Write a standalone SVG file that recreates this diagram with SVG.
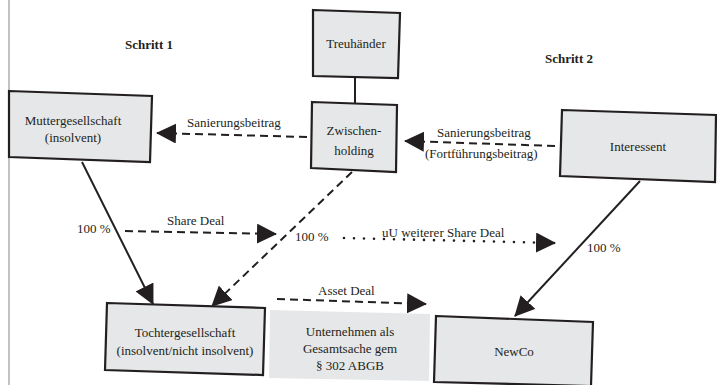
<svg xmlns="http://www.w3.org/2000/svg" width="717" height="385" viewBox="0 0 717 385">
<style>
.box{fill:#e6e7e8;stroke:#231f20;stroke-width:2.2}
.t{font-family:"Liberation Serif",serif;font-size:13px;fill:#231f20;text-anchor:middle}
.l{font-family:"Liberation Serif",serif;font-size:13px;fill:#231f20}
.b{font-weight:bold}
.solid{stroke:#231f20;stroke-width:2;fill:none;marker-end:url(#ah)}
.dash{stroke:#231f20;stroke-width:2;fill:none;stroke-dasharray:8 5;marker-end:url(#ah)}
.dot{stroke:#231f20;stroke-width:2.6;fill:none;stroke-dasharray:0 10;stroke-linecap:round;marker-end:url(#ah)}
</style>
<defs>
<marker id="ah" markerUnits="userSpaceOnUse" markerWidth="20" markerHeight="20" refX="19" refY="10" orient="auto" viewBox="0 0 20 20">
<path d="M0,0 L20,10 L0,20 z" fill="#231f20"/>
</marker>
</defs>
<rect width="717" height="385" fill="#ffffff"/>
<line x1="9" y1="0" x2="9" y2="385" stroke="#9a9a9a" stroke-width="1.2"/>
<text class="l b" x="125" y="49">Schritt 1</text>
<text class="l b" x="545" y="63">Schritt 2</text>
<g id="connectors">
<line x1="355" y1="77" x2="355" y2="103" stroke="#231f20" stroke-width="2"/>
<line class="dash" x1="307" y1="137" x2="157" y2="133"/>
<line class="dash" x1="555" y1="146" x2="405" y2="141"/>
<line class="solid" x1="82" y1="162" x2="153" y2="304"/>
<line class="dash" x1="352" y1="172" x2="212" y2="306"/>
<line class="dash" x1="125" y1="231" x2="276" y2="234"/>
<line class="dot" x1="344" y1="238" x2="555" y2="243"/>
<line class="dash" x1="277" y1="299" x2="426" y2="304"/>
<line class="solid" x1="640" y1="181" x2="515" y2="316"/>
<text class="l" x="187" y="127">Sanierungsbeitrag</text>
<text class="l" x="437" y="137">Sanierungsbeitrag</text>
<text class="l" x="425" y="158">(Fortführungsbeitrag)</text>
<text class="l" x="167" y="225">Share Deal</text>
<text class="l" x="77" y="233">100 %</text>
<text class="l" x="295" y="241">100 %</text>
<text class="l" x="382" y="237">uU weiterer Share Deal</text>
<text class="l" x="318" y="295">Asset Deal</text>
<text class="l" x="587" y="252">100 %</text>
</g>
<g id="muttergesellschaft">
<polygon class="box" points="9,91 152,96 150,162 9,157"/>
<text class="t" x="73" y="125">Muttergesellschaft</text>
<text class="t" x="73" y="142">(insolvent)</text>
</g>
<g id="treuhaender">
<polygon class="box" points="313,10 400,13 398,78 313,76"/>
<text class="t" x="356" y="48">Treuhänder</text>
</g>
<g id="zwischenholding">
<polygon class="box" points="312,102 397,105 396,172 311,168"/>
<text class="t" x="354" y="135">Zwischen-</text>
<text class="t" x="354" y="155">holding</text>
</g>
<g id="interessent">
<polygon class="box" points="562,110 716,115 715,182 560,176"/>
<text class="t" x="638" y="151">Interessent</text>
</g>
<g id="tochtergesellschaft">
<polygon class="box" points="107,303 265,308 263,375 105,370"/>
<text class="t" x="185" y="337">Tochtergesellschaft</text>
<text class="t" x="185" y="355">(insolvent/nicht insolvent)</text>
</g>
<g id="unternehmen">
<polygon points="270,310 430,314 429,381 269,378" fill="#e6e7e8"/>
<text class="t" x="350" y="336">Unternehmen als</text>
<text class="t" x="350" y="353">Gesamtsache gem</text>
<text class="t" x="350" y="370">§ 302 ABGB</text>
</g>
<g id="newco">
<polygon class="box" points="436,316 593,322 591,386 434,382"/>
<text class="t" x="514" y="356">NewCo</text>
</g>
</svg>
